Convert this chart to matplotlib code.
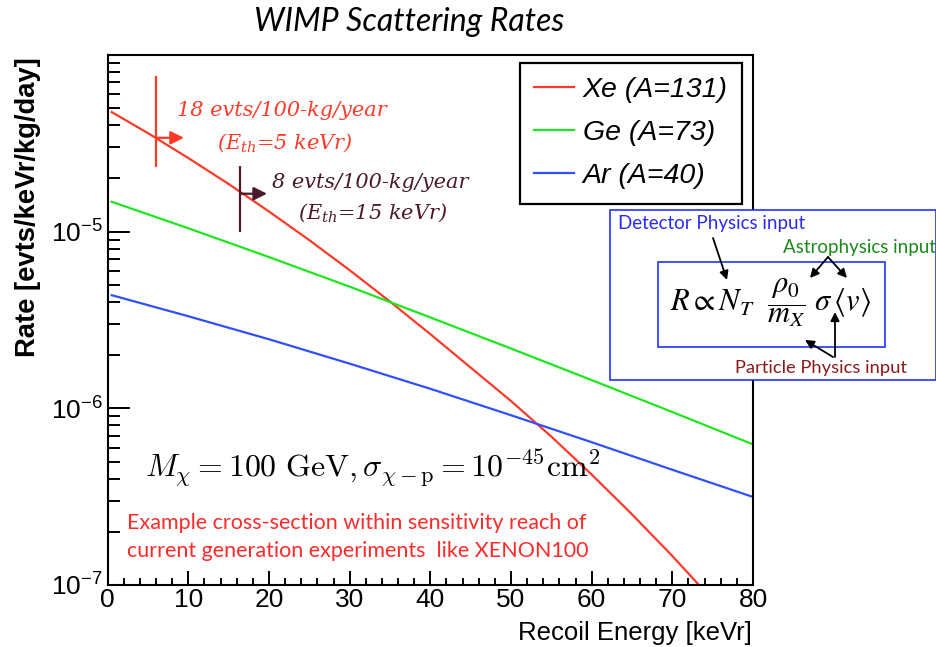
import numpy as np
import matplotlib
matplotlib.use('Agg')
import matplotlib.pyplot as plt
from matplotlib.patches import Rectangle, FancyArrowPatch
from matplotlib.ticker import FixedLocator, MultipleLocator, LogLocator, NullFormatter

plt.rcParams['font.family'] = 'Liberation Sans'

# recoil energy [keVr] vs rate [evts/keVr/kg/day]
energy_xe = [0.5, 5, 10, 15, 20, 25, 30, 35, 40, 45, 50, 55, 60, 65, 70, 73.3]
rate_xe = [4.75e-5, 3.61e-5, 2.61e-5, 1.86e-5, 1.30e-5, 8.95e-6, 6.05e-6, 4.02e-6,
           2.63e-6, 1.70e-6, 1.10e-6, 6.92e-7, 4.22e-7, 2.51e-7, 1.46e-7, 1.0e-7]
energy_ge = [0.5, 10, 20, 30, 40, 50, 60, 70, 80]
rate_ge = [1.476e-5, 1.045e-5, 7.18e-6, 4.88e-6, 3.27e-6, 2.18e-6, 1.445e-6, 9.53e-7, 6.25e-7]
energy_ar = [0.5, 10, 20, 30, 40, 50, 60, 70, 80]
rate_ar = [4.37e-6, 3.32e-6, 2.46e-6, 1.79e-6, 1.29e-6, 9.14e-7, 6.43e-7, 4.49e-7, 3.15e-7]

labels = ['Xe (A=131)', 'Ge (A=73)', 'Ar (A=40)']
colors = ['#ff3a28', '#1ee61e', '#3050ff']

# threshold markers (5 and 15 keVr on the Xe curve)
thr_energy = [6.0, 16.4]
thr_rate = [3.4e-5, 1.64e-5]
thr_low = [2.32e-5, 1.0e-5]
thr_high = [7.6e-5, 2.34e-5]
thr_arrow_to = [9.45, 19.75]
thr_colors = ['#ff3a28', '#4a1a2a']
thr_text = [('18 evts/100-kg/year', '(E$_{th}$=5 keVr)'),
            ('8 evts/100-kg/year', '(E$_{th}$=15 keVr)')]

W, H = 937, 647
fig = plt.figure(figsize=(W / 100, H / 100), dpi=100)
ax = fig.add_axes([107.7 / W, 1 - 585 / H, (753 - 107.7) / W, (585 - 55) / H])

for e, r, c, l in zip([energy_xe, energy_ge, energy_ar], [rate_xe, rate_ge, rate_ar], colors, labels):
    ax.plot(e, r, color=c, lw=1.6, label=l)

ax.set_yscale('log')
ax.set_xlim(0, 80)
ax.set_ylim(1e-7, 1e-4)
ax.xaxis.set_major_locator(MultipleLocator(10))
ax.xaxis.set_minor_locator(MultipleLocator(2))
ax.yaxis.set_major_locator(FixedLocator([1e-7, 1e-6, 1e-5]))
ax.yaxis.set_minor_locator(LogLocator(base=10, subs=np.arange(2, 10)))
ax.yaxis.set_minor_formatter(NullFormatter())
ax.tick_params(which='both', direction='in', top=False, right=False, width=1.4, labelsize=19)
ax.tick_params(axis='y', which='major', length=16, pad=3.5)
ax.tick_params(axis='y', which='minor', length=8.5)
ax.tick_params(axis='x', which='major', length=10, pad=2)
ax.tick_params(axis='x', which='minor', length=5)
for s in ax.spines.values():
    s.set_linewidth(1.5)

leg = ax.legend(loc='upper right', bbox_to_anchor=(0.983, 0.985), borderaxespad=0,
                prop={'family': 'Liberation Sans', 'style': 'italic', 'size': 20.5},
                fancybox=False, framealpha=1, edgecolor='black', handlelength=1.4,
                handletextpad=0.3, borderpad=0.5, labelspacing=0.6)
leg.get_frame().set_linewidth(1.6)

# threshold markers
ax.vlines(thr_energy, thr_low, thr_high, colors=thr_colors, lw=1.6)
for e, r, e2, c in zip(thr_energy, thr_rate, thr_arrow_to, thr_colors):
    ax.annotate('', xy=(e2, r), xytext=(e, r),
                arrowprops=dict(arrowstyle='-|>', color=c, lw=1.6, mutation_scale=20,
                                shrinkA=0, shrinkB=0))
for (t1, t2), c, (x1, y1, x2, y2) in zip(thr_text, thr_colors,
                                         [(0.1074, 0.896, 0.1694, 0.834), (0.2546, 0.760, 0.2947, 0.702)]):
    ax.text(x1, y1, t1, transform=ax.transAxes, color=c, family='DejaVu Serif',
            style='italic', size=15, va='center', ha='left', math_fontfamily='dejavuserif')
    ax.text(x2, y2, t2, transform=ax.transAxes, color=c, family='DejaVu Serif',
            style='italic', size=15, va='center', ha='left', math_fontfamily='dejavuserif')

ax.text(0.058, 0.221, r'$M_\chi = 100\ \mathrm{GeV}, \sigma_{\chi-\mathrm{p}} = 10^{-45}\mathrm{cm}^2$',
        transform=ax.transAxes, size=23, va='center', ha='left', math_fontfamily='cm')
ax.text(0.030, 0.117, 'Example cross-section within sensitivity reach of',
        transform=ax.transAxes, color='#ff2a2a', family='Lato', size=15.5, va='center')
ax.text(0.030, 0.064, 'current generation experiments  like XENON100',
        transform=ax.transAxes, color='#ff2a2a', family='Lato', size=15.5, va='center')

fig.text(409 / W, 1 - 22 / H, 'WIMP Scattering Rates', family='Lato', style='italic',
         size=23, ha='center', va='center')
fig.text(28 / W, 1 - 57 / H, 'Rate [evts/keVr/kg/day]', family='Liberation Sans',
         weight='bold', size=19.7, rotation=90, ha='center', va='top')
fig.text(752 / W, 1 - 633 / H, 'Recoil Energy [keVr]', family='Liberation Sans',
         size=18.5, ha='right', va='center')


# formula panel
def fx(px):
    return px / W


def fy(py):
    return 1 - py / H


fig.add_artist(Rectangle((fx(610), fy(380)), fx(936) - fx(610), fy(210) - fy(380),
                         transform=fig.transFigure, facecolor='white', edgecolor='#2233ff',
                         lw=1.2, zorder=5))
fig.add_artist(Rectangle((fx(658), fy(347)), fx(885) - fx(658), fy(262) - fy(347),
                         transform=fig.transFigure, facecolor='none', edgecolor='#2233ff',
                         lw=1.2, zorder=6))
fig.text(fx(771), fy(303), r'$R \propto N_T\ \ \dfrac{\rho_0}{m_X}\ \sigma\,\langle v\rangle$',
         size=22, ha='center', va='center', math_fontfamily='stix', zorder=7)
fig.text(fx(618), fy(223), 'Detector Physics input', color='#2a2aff', family='Lato',
         size=13.5, ha='left', va='center', zorder=7)
fig.text(fx(783), fy(247), 'Astrophysics input', color='#1a8a1a', family='Lato',
         size=13.5, ha='left', va='center', zorder=7)
fig.text(fx(735), fy(368), 'Particle Physics input', color='#8b1a1a', family='Lato',
         size=13.2, ha='left', va='center', zorder=7)

for (a, b) in [((713, 238), (727, 280)), ((828, 257), (810, 278)), ((828, 257), (847, 278)),
               ((835, 357), (835, 312)), ((833, 357), (805, 340))]:
    fig.add_artist(FancyArrowPatch((fx(a[0]), fy(a[1])), (fx(b[0]), fy(b[1])),
                                   transform=fig.transFigure, arrowstyle='-|>',
                                   mutation_scale=13, lw=1.3, color='black',
                                   shrinkA=0, shrinkB=0, zorder=8))

fig.savefig('out.png', dpi=100)
